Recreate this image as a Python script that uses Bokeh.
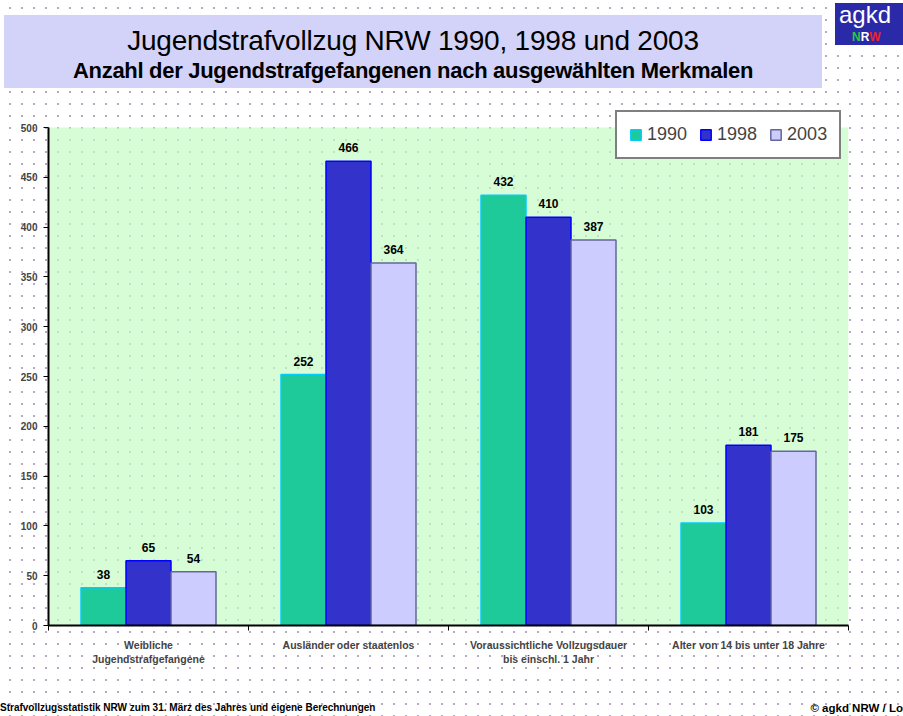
from bokeh.plotting import figure
from bokeh.layouts import column
from bokeh.models import (ColumnDataSource, Range1d, FixedTicker, BoxAnnotation,
                          Legend, LegendItem, Div)
from bokeh.transform import dodge
from bokeh.core.properties import value
from bokeh.embed import file_html
from bokeh.resources import INLINE

# ---------------- data ----------------
categories = ["Weibliche\nJugendstrafgefangene",
              "Ausländer oder staatenlos",
              "Voraussichtliche Vollzugsdauer\nbis einschl. 1 Jahr",
              "Alter von 14 bis unter 18 Jahre"]
years = ["1990", "1998", "2003"]
v1990 = [38, 252, 432, 103]
v1998 = [65, 466, 410, 181]
v2003 = [54, 364, 387, 175]
y_ticks = [0, 50, 100, 150, 200, 250, 300, 350, 400, 450, 500]
y_max = 500

title = "Jugendstrafvollzug NRW 1990, 1998 und 2003"
subtitle = "Anzahl der Jugendstrafgefangenen nach ausgewählten Merkmalen"
source_note = "Strafvollzugsstatistik NRW zum 31. März des Jahres und eigene Berechnungen"
copyright_note = "© agkd NRW / Lo"

PAGE_W = 903
DOTS = {"background-color": "white",
        "background-image": "radial-gradient(circle, #b8a8c4 0.9px, transparent 1.3px)",
        "background-size": "12px 12px", "background-position": "4px 2px"}

# ---------------- header ----------------
header_html = f"""
<div style="position:relative;width:{PAGE_W}px;height:100px;overflow:hidden;
            font-family:'Liberation Sans',Arial,sans-serif;color:black;">
  <div style="position:absolute;left:4px;top:15px;width:818px;height:73px;background:#d3d3f9;"></div>
  <div style="position:absolute;left:4px;top:24px;width:818px;text-align:center;
              font-size:28px;line-height:34px;letter-spacing:-0.2px;">{title}</div>
  <div style="position:absolute;left:4px;top:58px;width:818px;text-align:center;
              font-size:22px;line-height:25px;font-weight:bold;letter-spacing:-0.3px;">{subtitle}</div>
  <div style="position:absolute;left:835px;top:3px;width:80px;height:42px;background:#2a2aa8;"></div>
  <div style="position:absolute;left:839px;top:2px;font-size:24px;line-height:26px;color:white;">agkd</div>
  <div style="position:absolute;left:852px;top:30px;font-size:12px;line-height:14px;font-weight:bold;">
     <span style="color:#22cc44;">N</span><span style="color:white;">R</span><span style="color:#ee2222;">W</span></div>
</div>
"""
header = Div(text=header_html, width=PAGE_W, height=100, margin=0)

# ---------------- main chart ----------------
FR_TOP, FR_BOT, AX_TOP = 100, 625, 127           # page pixels
main_h = 690 - FR_TOP
y_top = y_max * (FR_BOT - FR_TOP) / (FR_BOT - AX_TOP)

p = figure(width=PAGE_W, height=main_h, output_backend="svg", toolbar_location=None,
           x_range=Range1d(0, len(categories)), y_range=Range1d(0, y_top),
           min_border_left=48, min_border_right=PAGE_W - 848, min_border_top=0,
           min_border_bottom=main_h - (FR_BOT - FR_TOP), margin=0)
p.background_fill_alpha = 0
p.border_fill_alpha = 0
p.outline_line_color = None
p.grid.visible = False

# green plot area up to the axis maximum (dots of the page shine through)
p.add_layout(BoxAnnotation(bottom=0, top=y_max, fill_color="#c4fcc4", fill_alpha=0.68,
                           line_color=None, level="underlay"))

xs = [i + 0.5 for i in range(len(categories))]
src = ColumnDataSource(dict(x=xs, v1990=v1990, v1998=v1998, v2003=v2003,
                            t1990=[str(v) for v in v1990],
                            t1998=[str(v) for v in v1998],
                            t2003=[str(v) for v in v2003]))

bw = 0.225
styles = [("v1990", "t1990", -bw, "#1ec99a", "#00ccff"),
          ("v1998", "t1998", 0.0, "#3333cc", "#0000ff"),
          ("v2003", "t2003", bw, "#ccccff", "#666699")]
renderers = []
for col, tcol, off, fc, lc in styles:
    r = p.vbar(x=dodge("x", off), top=col, width=bw, bottom=0, source=src,
               fill_color=fc, line_color=lc, line_width=1.5)
    renderers.append(r)
    p.text(x=dodge("x", off), y=col, text=tcol, source=src, y_offset=-9,
           text_align="center", text_baseline="bottom",
           text_font=value("Liberation Sans"), text_font_style="bold",
           text_font_size="12px", text_color="black")

p.yaxis.ticker = FixedTicker(ticks=y_ticks)
p.yaxis.bounds = (0, y_max)
p.yaxis.axis_line_width = 2
p.yaxis.axis_line_color = "black"
p.yaxis.major_tick_out = 5
p.yaxis.major_tick_in = 0
p.yaxis.minor_tick_line_color = None
p.yaxis.major_label_text_font = "Liberation Sans"
p.yaxis.major_label_text_font_style = "bold"
p.yaxis.major_label_text_font_size = "10px"
p.yaxis.major_label_standoff = 6

p.xaxis.ticker = FixedTicker(ticks=xs, minor_ticks=list(range(len(categories) + 1)))
p.xaxis.major_label_overrides = {x: c for x, c in zip(xs, categories)}
p.xaxis.axis_line_width = 2
p.xaxis.axis_line_color = "black"
p.xaxis.major_tick_line_color = None
p.xaxis.minor_tick_line_color = "black"
p.xaxis.minor_tick_out = 5
p.xaxis.minor_tick_in = 0
p.xaxis.major_label_text_font = "Liberation Sans"
p.xaxis.major_label_text_font_style = "bold"
p.xaxis.major_label_text_font_size = "10.5px"
p.xaxis.major_label_standoff = 7

legend = Legend(items=[LegendItem(label=y, renderers=[r]) for y, r in zip(years, renderers)],
                orientation="horizontal", location=(615 - 48, FR_BOT - 159),
                label_text_font="Liberation Sans", label_text_font_size="18px",
                glyph_width=13, glyph_height=13, spacing=12, padding=12, margin=0,
                label_standoff=5,
                border_line_color="black", border_line_width=2,
                background_fill_color="white", background_fill_alpha=1)
p.add_layout(legend)

# ---------------- footer ----------------
footer_html = f"""
<div style="position:relative;width:{PAGE_W}px;height:26px;overflow:hidden;
            font-family:'Liberation Sans',Arial,sans-serif;font-weight:bold;color:black;">
  <div style="position:absolute;left:0px;top:12px;font-size:10px;line-height:12px;white-space:nowrap;">{source_note}</div>
  <div style="position:absolute;right:0px;top:11px;font-size:11.5px;line-height:14px;white-space:nowrap;">{copyright_note}</div>
</div>
"""
footer = Div(text=footer_html, width=PAGE_W, height=26, margin=0)

layout = column(header, p, footer, spacing=0, styles=DOTS)
open("out.html", "w").write(file_html(layout, INLINE))
